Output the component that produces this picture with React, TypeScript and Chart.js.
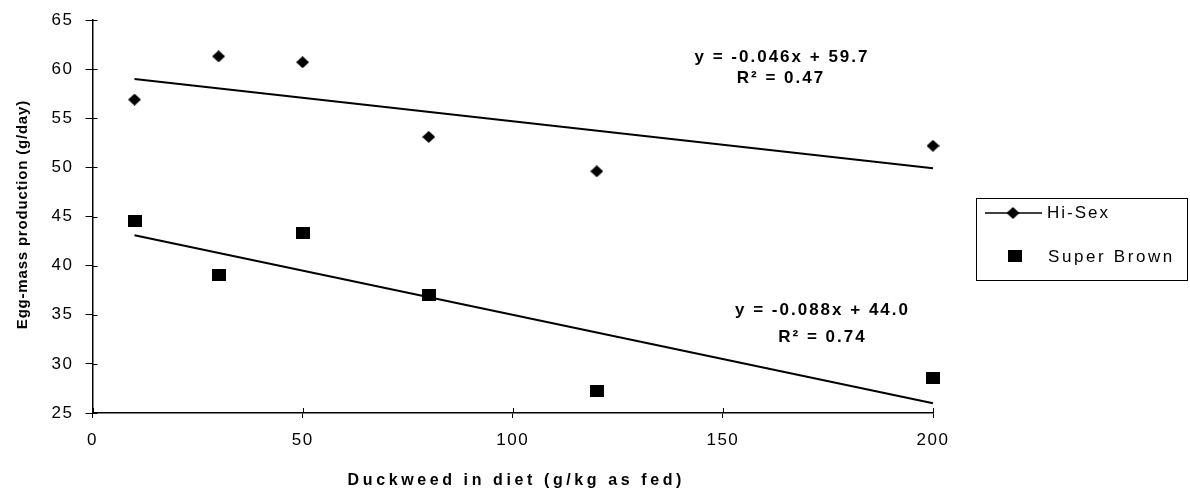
import React, { useEffect, useRef } from 'react';
import { Chart, registerables } from 'chart.js';

Chart.register(...registerables);

// ---- data ----
const duckweedLevels = [10, 30, 50, 80, 120, 200];
const hiSexValues = [56.9, 61.3, 60.7, 53.1, 49.6, 52.2];
const superBrownValues = [44.5, 39.0, 43.3, 37.0, 27.2, 28.6];
const trendX = [10, 200];
const hiSexTrendY = [59.0, 49.9];
const superBrownTrendY = [43.1, 26.0];
const xTickValues = [0, 50, 100, 150, 200];
const yTickValues = [25, 30, 35, 40, 45, 50, 55, 60, 65];
const seriesNames = ['Hi-Sex', 'Super Brown'];
const hiSexEquation = ['y = -0.046x + 59.7', 'R\u00B2 = 0.47'];
const superBrownEquation = ['y = -0.088x + 44.0', 'R\u00B2 = 0.74'];
const xTitle = 'Duckweed in diet (g/kg as fed)';
const yTitle = 'Egg-mass production (g/day)';

const FAMILY = '"Liberation Sans", Arial, Helvetica, sans-serif';

function makeDiamond(): HTMLCanvasElement {
  const c = document.createElement('canvas');
  c.width = 13;
  c.height = 12;
  const g = c.getContext('2d')!;
  g.fillStyle = '#000';
  g.beginPath();
  g.moveTo(6.5, 0);
  g.lineTo(13, 6);
  g.lineTo(6.5, 12);
  g.lineTo(0, 6);
  g.closePath();
  g.fill();
  return c;
}

function makeSquare(): HTMLCanvasElement {
  const c = document.createElement('canvas');
  c.width = 14;
  c.height = 12;
  const g = c.getContext('2d')!;
  g.fillStyle = '#000';
  g.fillRect(0, 0, 14, 12);
  return c;
}

function drawSpaced(
  ctx: CanvasRenderingContext2D,
  text: string,
  x: number,
  y: number,
  font: string,
  spacing: number,
  align: 'left' | 'center'
) {
  ctx.save();
  ctx.font = font;
  (ctx as any).letterSpacing = '0px';
  const w0 = ctx.measureText(text).width;
  const n = Array.from(text).length;
  const vis = w0 + spacing * (n - 1);
  (ctx as any).letterSpacing = spacing + 'px';
  ctx.textAlign = 'left';
  ctx.textBaseline = 'middle';
  ctx.fillStyle = '#000';
  const sx = align === 'center' ? x - vis / 2 : x;
  ctx.fillText(text, sx, y);
  ctx.restore();
}

export default function App() {
  const ref = useRef<HTMLCanvasElement | null>(null);

  useEffect(() => {
    document.body.style.margin = '0';
    const canvas = ref.current!;
    const diamond = makeDiamond();
    const square = makeSquare();

    const spacingPlugin = {
      id: 'spacing',
      beforeDraw(chart: any) {
        chart.ctx.letterSpacing = '1.5px';
      },
    };

    const decorPlugin = {
      id: 'decor',
      afterDraw(chart: any) {
        const ctx: CanvasRenderingContext2D = chart.ctx;
        const xs = chart.scales.x;
        const ys = chart.scales.y;
        const area = chart.chartArea;
        ctx.save();
        (ctx as any).letterSpacing = '0px';
        // inner parts of the crossing tick marks
        ctx.strokeStyle = '#000';
        ctx.lineWidth = 1;
        ctx.beginPath();
        yTickValues.forEach((v) => {
          const py = Math.round(ys.getPixelForValue(v)) + 0.5;
          ctx.moveTo(area.left, py);
          ctx.lineTo(area.left + 5, py);
        });
        xTickValues.forEach((v) => {
          const px = Math.round(xs.getPixelForValue(v)) + 0.5;
          ctx.moveTo(px, area.bottom);
          ctx.lineTo(px, area.bottom - 5);
        });
        ctx.stroke();

        // regression equations
        const eqFont = `bold 17px ${FAMILY}`;
        drawSpaced(ctx, hiSexEquation[0], 781, 57, eqFont, 2, 'center');
        drawSpaced(ctx, hiSexEquation[1], 780, 78, eqFont, 2, 'center');
        drawSpaced(ctx, superBrownEquation[0], 821.5, 310, eqFont, 2, 'center');
        drawSpaced(ctx, superBrownEquation[1], 821.5, 337, eqFont, 2, 'center');

        // axis titles
        drawSpaced(ctx, xTitle, 514.5, 481, `bold 16px ${FAMILY}`, 3.6, 'center');
        ctx.save();
        ctx.translate(23, 215);
        ctx.rotate(-Math.PI / 2);
        drawSpaced(ctx, yTitle, 0, 0, `bold 15px ${FAMILY}`, 0.8, 'center');
        ctx.restore();

        // legend box
        ctx.strokeStyle = '#000';
        ctx.lineWidth = 1;
        ctx.strokeRect(976.5, 198.5, 211, 82);
        // Hi-Sex sample
        ctx.lineWidth = 1.5;
        ctx.beginPath();
        ctx.moveTo(985, 213);
        ctx.lineTo(1042, 213);
        ctx.stroke();
        ctx.drawImage(diamond, 1013 - 6.5, 213 - 6);
        drawSpaced(ctx, seriesNames[0], 1047, 213, `17px ${FAMILY}`, 2, 'left');
        // Super Brown sample
        ctx.drawImage(square, 1008, 250);
        drawSpaced(ctx, seriesNames[1], 1048, 257, `17px ${FAMILY}`, 2.6, 'left');
        ctx.restore();
      },
    };

    const chart = new Chart(canvas, {
      type: 'scatter',
      data: {
        datasets: [
          {
            label: seriesNames[0] + ' trend',
            data: trendX.map((x, i) => ({ x, y: hiSexTrendY[i] })),
            showLine: true,
            borderColor: '#000',
            borderWidth: 2,
            pointRadius: 0,
            clip: false,
          },
          {
            label: seriesNames[1] + ' trend',
            data: trendX.map((x, i) => ({ x, y: superBrownTrendY[i] })),
            showLine: true,
            borderColor: '#000',
            borderWidth: 2,
            pointRadius: 0,
            clip: false,
          },
          {
            label: seriesNames[0],
            data: duckweedLevels.map((x, i) => ({ x, y: hiSexValues[i] })),
            pointStyle: diamond as any,
            pointRadius: 6,
            backgroundColor: '#000',
            borderColor: '#000',
            clip: false,
          },
          {
            label: seriesNames[1],
            data: duckweedLevels.map((x, i) => ({ x, y: superBrownValues[i] })),
            pointStyle: square as any,
            pointRadius: 7,
            backgroundColor: '#000',
            borderColor: '#000',
            clip: false,
          },
        ],
      },
      options: {
        animation: false,
        responsive: false,
        devicePixelRatio: 1,
        events: [],
        layout: { padding: { top: 20, right: 257, left: 0, bottom: 0 } },
        plugins: {
          legend: { display: false },
          tooltip: { enabled: false },
          title: { display: false },
        },
        scales: {
          x: {
            type: 'linear',
            min: 0,
            max: 200,
            afterBuildTicks: (s: any) => {
              s.ticks = xTickValues.map((v) => ({ value: v }));
            },
            afterFit: (s: any) => {
              s.height = 83;
              s.paddingLeft = 0;
              s.paddingRight = 0;
              s.paddingTop = 0;
              s.paddingBottom = 0;
            },
            ticks: {
              color: '#000',
              font: { family: FAMILY, size: 17 },
              padding: 12,
              maxRotation: 0,
              autoSkip: false,
            },
            grid: {
              drawOnChartArea: false,
              drawTicks: true,
              tickLength: 5,
              color: '#000',
              lineWidth: 1,
            },
            border: { display: true, color: '#000', width: 1.5 },
          },
          y: {
            type: 'linear',
            min: 25,
            max: 65,
            afterBuildTicks: (s: any) => {
              s.ticks = yTickValues.map((v) => ({ value: v }));
            },
            afterFit: (s: any) => {
              s.width = 92.5;
              s.paddingLeft = 0;
              s.paddingRight = 0;
              s.paddingTop = 0;
              s.paddingBottom = 0;
            },
            ticks: {
              color: '#000',
              font: { family: FAMILY, size: 17 },
              padding: 12,
              autoSkip: false,
            },
            grid: {
              drawOnChartArea: false,
              drawTicks: true,
              tickLength: 7,
              color: '#000',
              lineWidth: 1,
            },
            border: { display: true, color: '#000', width: 1.5 },
          },
        },
      },
      plugins: [spacingPlugin, decorPlugin],
    } as any);

    return () => chart.destroy();
  }, []);

  return (
    <div style={{ width: 1190, height: 496, background: '#fff' }}>
      <canvas ref={ref} width={1190} height={496} style={{ display: 'block' }} />
    </div>
  );
}
